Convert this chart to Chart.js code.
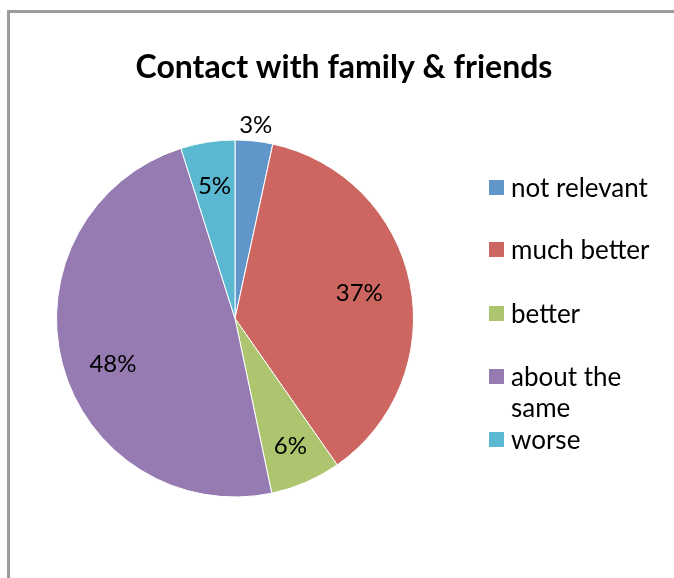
<!DOCTYPE html>
<html>
<head>
<meta charset="utf-8">
<script src="https://cdn.jsdelivr.net/npm/chart.js@4.4.1/dist/chart.umd.min.js"></script>
<style>
  html, body { margin: 0; padding: 0; background: #fff; overflow: hidden; }
  #wrap { position: relative; width: 674px; height: 578px; }
  #frame { position: absolute; left: 7px; top: 10px; width: 700px; height: 600px; border: 3px solid #9c9c9c; box-sizing: border-box; }
  #chart { position: absolute; left: 0; top: 0; }
</style>
</head>
<body>
<div id="wrap">
  <div id="frame"></div>
  <canvas id="chart" width="674" height="578"></canvas>
</div>
<script>
const titleText = 'Contact with family & friends';
const categories = ['not relevant', 'much better', 'better', 'about the same', 'worse'];
const legendLines = [['not relevant'], ['much better'], ['better'], ['about the', 'same'], ['worse']];
const values = [3.4, 36.9, 6.4, 48.4, 4.9];
const pctLabels = ['3%', '37%', '6%', '48%', '5%'];
const colors = ['#6196cb', '#cd6660', '#adc56e', '#957bb1', '#5bb8d1'];

const FONT = 'Lato, "Open Sans", "Liberation Sans", sans-serif';

// label placement: radius as fraction of the pie radius, small angle nudge
const labelRadius = [1.09, 0.71, 0.78, 0.73, 0.75];
const labelNudge = [0, 0, 0, -0.1, 0];

const sliceLabels = {
  id: 'sliceLabels',
  afterDatasetsDraw(chart) {
    const ctx = chart.ctx;
    const meta = chart.getDatasetMeta(0);
    ctx.save();
    ctx.font = '24px ' + FONT;
    ctx.fillStyle = '#000';
    ctx.textAlign = 'center';
    ctx.textBaseline = 'middle';
    meta.data.forEach((arc, i) => {
      const p = arc.getProps(['x', 'y', 'startAngle', 'endAngle', 'outerRadius'], true);
      const mid = (p.startAngle + p.endAngle) / 2 + labelNudge[i];
      const r = p.outerRadius * labelRadius[i];
      ctx.fillText(pctLabels[i], p.x + Math.cos(mid) * r, p.y + Math.sin(mid) * r);
    });
    ctx.restore();
  }
};

const titleAndLegend = {
  id: 'titleAndLegend',
  afterDraw(chart) {
    const ctx = chart.ctx;
    ctx.save();
    ctx.fillStyle = '#000';
    ctx.font = 'bold 32px ' + FONT;
    ctx.textAlign = 'center';
    ctx.textBaseline = 'alphabetic';
    ctx.fillText(titleText, 344, 78);

    const tops = [180, 242, 306, 369, 432];
    ctx.font = '26px ' + FONT;
    ctx.textAlign = 'left';
    legendLines.forEach((lines, i) => {
      ctx.fillStyle = colors[i];
      ctx.fillRect(489, tops[i], 15, 15);
      ctx.fillStyle = '#000';
      lines.forEach((t, j) => ctx.fillText(t, 511, tops[i] + 17 + j * 31));
    });
    ctx.restore();
  }
};

new Chart(document.getElementById('chart'), {
  type: 'pie',
  data: {
    labels: categories,
    datasets: [{
      data: values,
      backgroundColor: colors,
      borderColor: '#ffffff',
      borderWidth: 1,
      hoverOffset: 0
    }]
  },
  options: {
    responsive: false,
    animation: false,
    layout: { padding: { left: 56, right: 260, top: 139, bottom: 80 } },
    plugins: {
      legend: { display: false },
      tooltip: { enabled: false },
      title: { display: false }
    }
  },
  plugins: [sliceLabels, titleAndLegend]
});
</script>
</body>
</html>
